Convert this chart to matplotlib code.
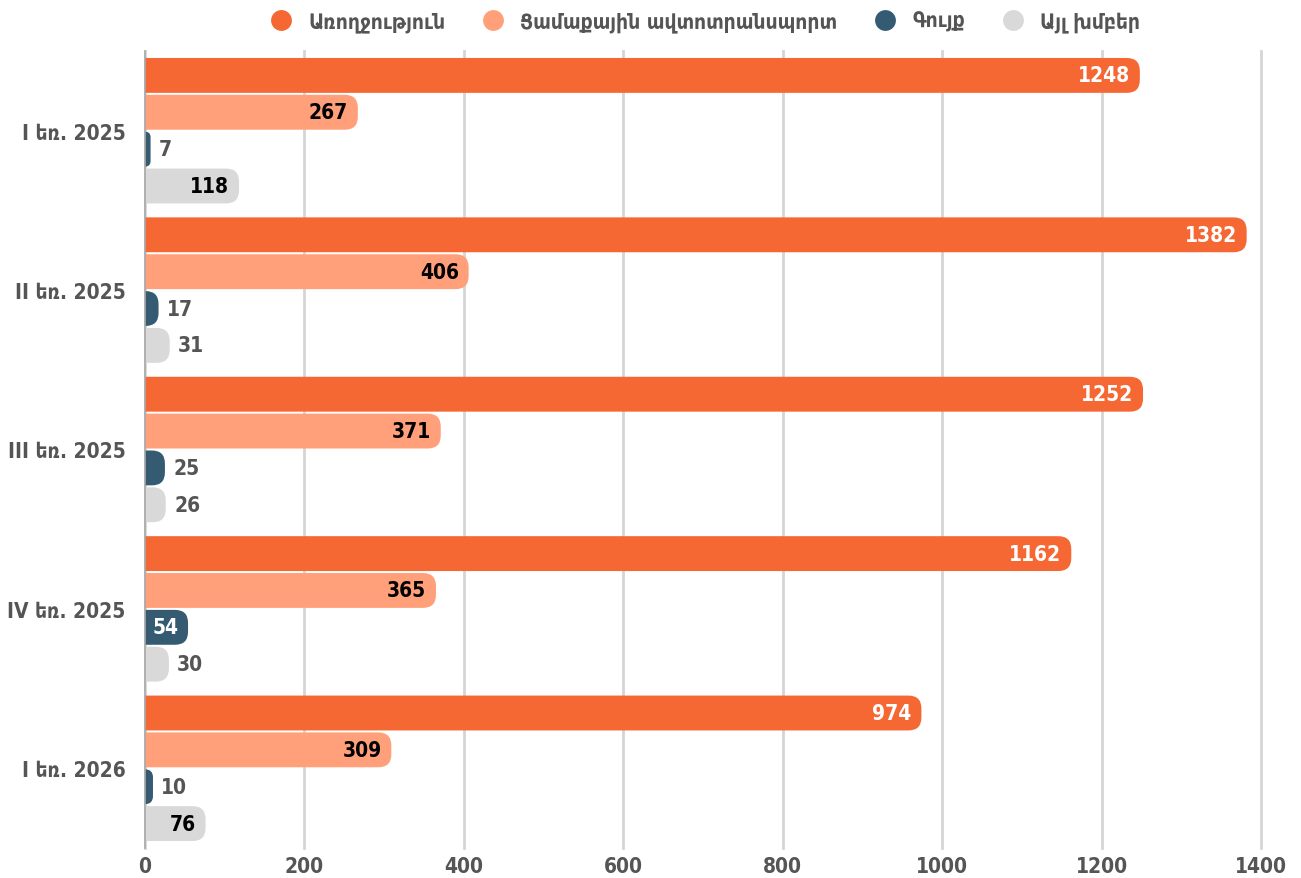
import matplotlib
matplotlib.use('Agg')
import matplotlib.pyplot as plt
from matplotlib.patches import FancyBboxPatch
from matplotlib.lines import Line2D
import numpy as np

categories = ['I եռ. 2025', 'II եռ. 2025', 'III եռ. 2025', 'IV եռ. 2025', 'I եռ. 2026']
series_names = ['Առողջություն', 'Ցամաքային ավտոտրանսպորտ', 'Գույք', 'Այլ խմբեր']
health = [1248, 1382, 1252, 1162, 974]
land_transport = [267, 406, 371, 365, 309]
property_ = [7, 17, 25, 54, 10]
other = [118, 31, 26, 30, 76]
x_ticks = [0, 200, 400, 600, 800, 1000, 1200, 1400]

series = [health, land_transport, property_, other]
colors = ['#F56733', '#FFA07A', '#355B73', '#D9D9D9']
inside_colors = ['white', 'black', 'white', 'black']
text_grey = '#555555'

plt.rcParams['font.family'] = ['DejaVu Sans']
plt.rcParams['font.stretch'] = 'condensed'

fig = plt.figure(figsize=(13.01, 8.79), dpi=100)
W, H = 1301, 879
left, right, top, bottom = 145, 1261, 52, 849
ax = fig.add_axes([left / W, 1 - bottom / H, (right - left) / W, (bottom - top) / H])
ax.set_xlim(0, 1400)
ax.set_ylim(len(categories) - 0.5, -0.5)

step = 37 / 160
bh = 35 / 160
y_base = np.arange(len(categories))

ppx = (right - left) / 1400.0
ppy = (bottom - top) / float(len(categories))
m_aspect = ppx / ppy
r_px = 13.0

for i, (vals, col, icol) in enumerate(zip(series, colors, inside_colors)):
    ys = y_base + (i - 1.5) * step
    bars = ax.barh(ys, vals, height=bh, color=col, zorder=3)
    for bar, v, yy in zip(bars, vals, ys):
        x0, y0 = bar.get_x(), bar.get_y()
        w, h = bar.get_width(), bar.get_height()
        bar.set_visible(False)
        dr = min(r_px / ppx, w, (h * ppy / ppx) / 2.0)
        # extend left by dr so the left rounding is clipped away at x=0
        p = FancyBboxPatch((x0 - dr, y0), w + dr, h,
                           boxstyle=f"round,pad=0,rounding_size={dr}",
                           mutation_aspect=m_aspect, facecolor=col,
                           edgecolor='none', zorder=3)
        ax.add_patch(p)
        if v >= 50:
            ax.annotate(str(v), (v, yy), xytext=(-7, 0), textcoords='offset points',
                        ha='right', va='center', fontsize=15, fontweight='bold',
                        color=icol, zorder=4)
        else:
            ax.annotate(str(v), (v, yy), xytext=(6, 0), textcoords='offset points',
                        ha='left', va='center', fontsize=15, fontweight='bold',
                        color=text_grey, zorder=4)

ax.set_xticks(x_ticks)
ax.set_xticklabels([str(t) for t in x_ticks])
ax.set_yticks(y_base)
ax.set_yticklabels(categories)
ax.tick_params(axis='both', length=0, labelsize=15, labelcolor=text_grey)
ax.tick_params(axis='x', pad=6)
ax.tick_params(axis='y', pad=14)
for lab in ax.get_xticklabels() + ax.get_yticklabels():
    lab.set_fontweight('bold')

ax.grid(axis='x', color='#D5D5D5', linewidth=2.0, zorder=0)
for gl in ax.get_xgridlines():
    gl.set_clip_on(False)
ax.set_axisbelow(True)
for s in ['top', 'right', 'bottom']:
    ax.spines[s].set_visible(False)
ax.spines['left'].set_color('#AAAAAA')
ax.spines['left'].set_linewidth(1.2)
ax.spines['left'].set_zorder(5)

handles = [Line2D([0], [0], marker='o', linestyle='none', markersize=15,
                  markerfacecolor=c, markeredgecolor='none') for c in colors]
leg = fig.legend(handles, series_names, loc='upper center', ncol=4,
                 bbox_to_anchor=(0.538, 1.008), frameon=False,
                 fontsize=15, handletextpad=0.3, columnspacing=1.3)
for t in leg.get_texts():
    t.set_color(text_grey)
    t.set_fontweight('bold')

fig.savefig('out.png', dpi=100)
